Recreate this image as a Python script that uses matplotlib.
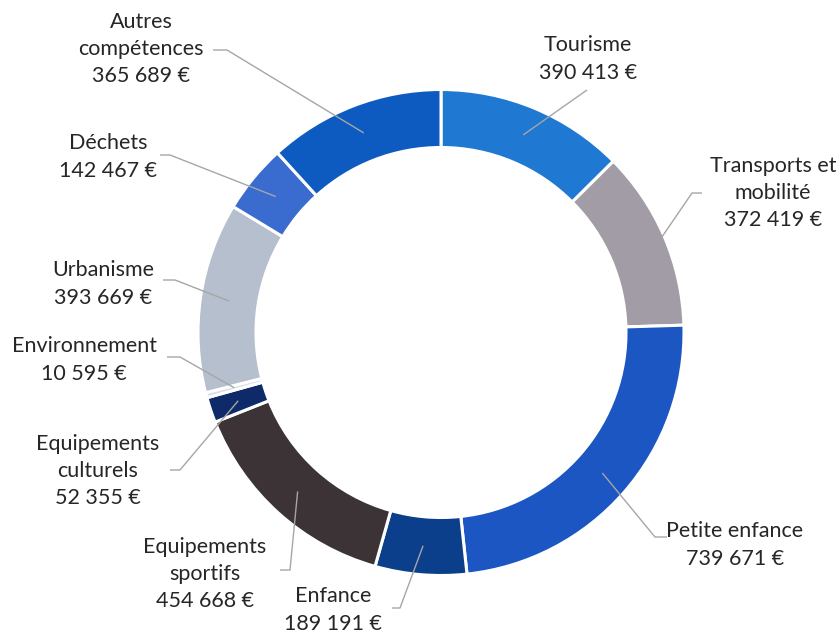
import numpy as np
import matplotlib
matplotlib.use('Agg')
import matplotlib.pyplot as plt

# données (ordre horaire depuis le haut)
categories = ["Tourisme", "Transports et\nmobilité", "Petite enfance", "Enfance",
              "Equipements\nsportifs", "Equipements\nculturels", "Environnement",
              "Urbanisme", "Déchets", "Autres\ncompétences"]
values = [390413, 372419, 739671, 189191, 454668, 52355, 10595, 393669, 142467, 365689]
colors = ["#1F78D1", "#A19CA6", "#1C56C2", "#0B3F8C", "#3B3335",
          "#0E2A68", "#D6E0EC", "#B6BFCE", "#3A6CCF", "#0D5BC1"]

W, H = 840, 637
CX, CY = 441, 332.5      # centre de l'anneau (pixels)
R_OUT, RING = 243, 58

# position des étiquettes (centre du bloc, pixels) et coude des lignes de rappel
label_pos = [(588, 59), (773, 193), (735, 545), (333, 610), (205, 574),
             (98, 471), (84, 360), (103, 284), (108, 157), (141, 49)]
leader_pts = [
    [(587, 90)],
    [(702, 193), (692, 193)],
    [(667, 537), (655, 537)],
    [(392, 608), (400, 608)],
    [(280, 570), (290, 570)],
    [(170, 470), (180, 470)],
    [(167, 357), (180, 357)],
    [(163, 280), (175, 280)],
    [(160, 155), (170, 155)],
    [(213, 50), (227, 50)],
]
leader_r = [214, 240, 214, 214, 214, 214, 214, 214, 214, 214]


def fmt(v):
    return f"{v:,}".replace(",", " ") + " €"


def py(y):
    return H - y


plt.rcParams['font.family'] = ['Lato', 'DejaVu Sans']

fig = plt.figure(figsize=(W / 100, H / 100), dpi=100)
ax = fig.add_axes([0, 0, 1, 1])

wedges, _ = ax.pie(values, colors=colors, startangle=90, counterclock=False,
                   radius=R_OUT, center=(CX, py(CY)),
                   wedgeprops=dict(width=RING, edgecolor='white', linewidth=2.2))

for w, cat, v, (lx, ly), pts, r in zip(wedges, categories, values,
                                       label_pos, leader_pts, leader_r):
    mid = np.deg2rad((w.theta1 + w.theta2) / 2)
    ax_x = CX + r * np.cos(mid)
    ax_y = py(CY) + r * np.sin(mid)
    xs = [p[0] for p in pts] + [ax_x]
    ys = [py(p[1]) for p in pts] + [ax_y]
    ax.plot(xs, ys, color='#A6A6A6', lw=1.0, solid_capstyle='butt')
    ax.text(lx, py(ly), f"{cat}\n{fmt(v)}", ha='center', va='center',
            multialignment='center', fontsize=15.5, color='#262626',
            linespacing=1.45)

ax.set_xlim(0, W)
ax.set_ylim(0, H)
ax.set_aspect('equal')
ax.axis('off')

fig.savefig("out.png", dpi=100, facecolor='white')
plt.close(fig)
